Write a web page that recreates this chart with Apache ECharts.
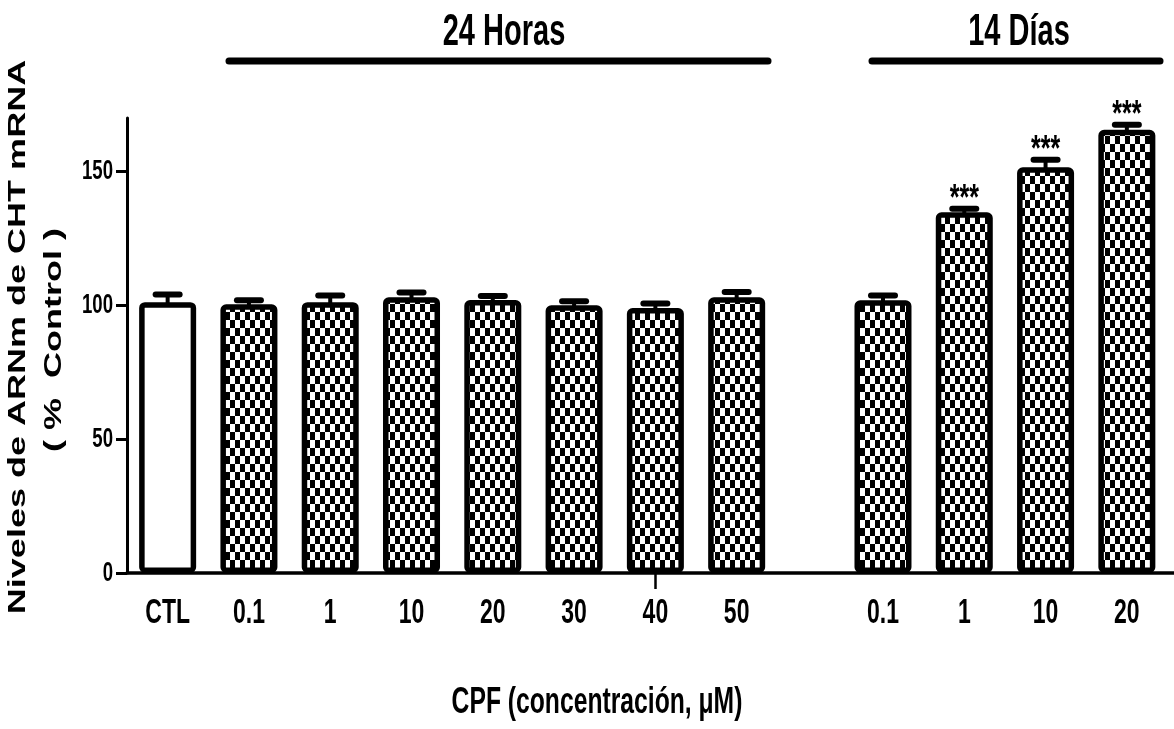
<!DOCTYPE html>
<html><head><meta charset="utf-8">
<script src="https://cdn.jsdelivr.net/npm/echarts@6/dist/echarts.min.js"></script>
<style>html,body{margin:0;padding:0;background:#fff}#c{width:1174px;height:729px}</style>
</head><body><div id="c"></div>
<script>
// ---- data ----
const categories = ['CTL', '0.1', '1', '10', '20', '30', '40', '50', '0.1', '1', '10', '20'];
const values = [101.2, 100.4, 101.2, 103, 102, 100, 99, 103, 101.9, 134.8, 151.6, 165.6];
const errors = [2.9, 1.5, 2.5, 1.8, 1.5, 1.5, 1.7, 2, 1.8, 1.3, 2.8, 1.9];
const significance = ['', '', '', '', '', '', '', '', '', '***', '***', '***'];
const yTicks = [0, 50, 100, 150];
const groupTitles = ['24 Horas', '14 Días'];
const yTitle = ['Niveles de ARNm de CHT mRNA', '( %  Control )'];
const xTitle = 'CPF (concentración, μM)';

// ---- layout ----
const FIRST_GROUP_SIZE = 8;   // CTL + 7 doses at 24 h
const GROUP_GAP = 0.8;        // extra space before the 14-day group
const X_MIN = -0.5, X_MAX = 12.38;
const xPos = categories.map((c, i) => i < FIRST_GROUP_SIZE ? i : i + GROUP_GAP);

function checker() {
  const cv = document.createElement('canvas');
  cv.width = 10; cv.height = 16;
  const g = cv.getContext('2d');
  g.fillStyle = '#fff'; g.fillRect(0, 0, 10, 16);
  g.fillStyle = '#000';
  g.fillRect(0, 0, 5, 8);
  g.fillRect(5, 8, 5, 8);
  return cv;
}
const pattern = { image: checker(), repeat: 'repeat' };

const font = '"Liberation Sans", Arial, sans-serif';
const STRETCH = 1.5;  // the reference's lettering is tall and narrow

const chart = echarts.init(document.getElementById('c'));
chart.setOption({
  animation: false,
  backgroundColor: '#fff',
  grid: { left: 127, right: 0, top: 118, bottom: 156, containLabel: false },
  xAxis: {
    type: 'value', min: X_MIN, max: X_MAX,
    splitLine: { show: false },
    axisLine: { show: true, onZero: false, lineStyle: { color: '#000', width: 3.5 } },
    axisTick: { show: true, customValues: [xPos[6]], length: 16, inside: false, lineStyle: { color: '#000', width: 2.5 } },
    axisLabel: { show: false }
  },
  yAxis: {
    type: 'value', min: 0, max: 170,
    splitLine: { show: false },
    axisLine: { show: true, onZero: false, lineStyle: { color: '#000', width: 3 } },
    axisTick: { show: true, customValues: yTicks, length: 11, lineStyle: { color: '#000', width: 3 } },
    axisLabel: { show: false }
  },
  series: [
    {
      type: 'bar',
      barWidth: 57,
      data: values.map((v, i) => ({
        value: [xPos[i], v],
        itemStyle: i === 0 ? { color: '#fff' } : {}
      })),
      itemStyle: { color: pattern, borderColor: '#000', borderWidth: 5.5, borderRadius: 3 },
      z: 2
    },
    {
      type: 'custom',
      clip: false,
      z: 3,
      data: values.map((v, i) => [xPos[i], v, errors[i], i]),
      renderItem: (params, api) => {
        const x = api.value(0), v = api.value(1), e = api.value(2), idx = api.value(3);
        const base = api.coord([x, v]);
        const top = api.coord([x, v + e]);
        const children = [
          { type: 'line', shape: { x1: base[0], y1: base[1] + 2, x2: top[0], y2: top[1] }, style: { stroke: '#000', lineWidth: 4 } },
          { type: 'rect', shape: { x: top[0] - 15, y: top[1] - 3, width: 30, height: 6, r: 3 }, style: { fill: '#000' } }
        ];
        if (significance[idx]) {
          children.push({
            type: 'text', x: top[0], y: top[1] - 9, scaleY: STRETCH,
            style: { text: significance[idx], font: 'bold 25px ' + font, textAlign: 'center', textVerticalAlign: 'middle', fill: '#000' }
          });
        }
        return { type: 'group', children };
      }
    },
    {
      // x tick labels
      type: 'custom',
      clip: false,
      silent: true,
      data: xPos.map((p, i) => [p, 0, i]),
      renderItem: (params, api) => {
        const pt = api.coord([api.value(0), api.value(1)]);
        return {
          type: 'text', x: pt[0], y: pt[1] + 40, scaleY: STRETCH,
          style: { text: categories[api.value(2)], font: 'bold 23px ' + font, textAlign: 'center', textVerticalAlign: 'middle', fill: '#000' }
        };
      }
    },
    {
      // y tick labels
      type: 'custom',
      clip: false,
      silent: true,
      data: yTicks.map(t => [X_MIN, t]),
      renderItem: (params, api) => {
        const pt = api.coord([api.value(0), api.value(1)]);
        return {
          type: 'text', x: pt[0] - 14, y: pt[1], scaleY: STRETCH,
          style: { text: String(api.value(1)), font: 'bold 18.6px ' + font, textAlign: 'right', textVerticalAlign: 'middle', fill: '#000' }
        };
      }
    }
  ],
  graphic: [
    { type: 'text', x: 18, y: 337, rotation: Math.PI / 2, scaleX: 1.47,
      style: { text: yTitle[0], font: 'bold 24.5px ' + font, textAlign: 'center', textVerticalAlign: 'middle', fill: '#000' } },
    { type: 'text', x: 54, y: 340, rotation: Math.PI / 2, scaleX: 1.47,
      style: { text: yTitle[1], font: 'bold 24.5px ' + font, textAlign: 'center', textVerticalAlign: 'middle', fill: '#000' } },
    { type: 'text', x: 504, y: 33, scaleY: STRETCH,
      style: { text: groupTitles[0], font: 'bold 29px ' + font, textAlign: 'center', textVerticalAlign: 'middle', fill: '#000' } },
    { type: 'text', x: 1019, y: 33, scaleY: STRETCH,
      style: { text: groupTitles[1], font: 'bold 29px ' + font, textAlign: 'center', textVerticalAlign: 'middle', fill: '#000' } },
    { type: 'line', shape: { x1: 229, y1: 61, x2: 768, y2: 61 }, style: { stroke: '#000', lineWidth: 7, lineCap: 'round' } },
    { type: 'line', shape: { x1: 872, y1: 61, x2: 1160, y2: 61 }, style: { stroke: '#000', lineWidth: 7, lineCap: 'round' } },
    { type: 'text', x: 597, y: 703, scaleY: STRETCH,
      style: { text: xTitle, font: 'bold 24.7px ' + font, textAlign: 'center', textVerticalAlign: 'middle', fill: '#000' } }
  ]
});
</script>
</body></html>
